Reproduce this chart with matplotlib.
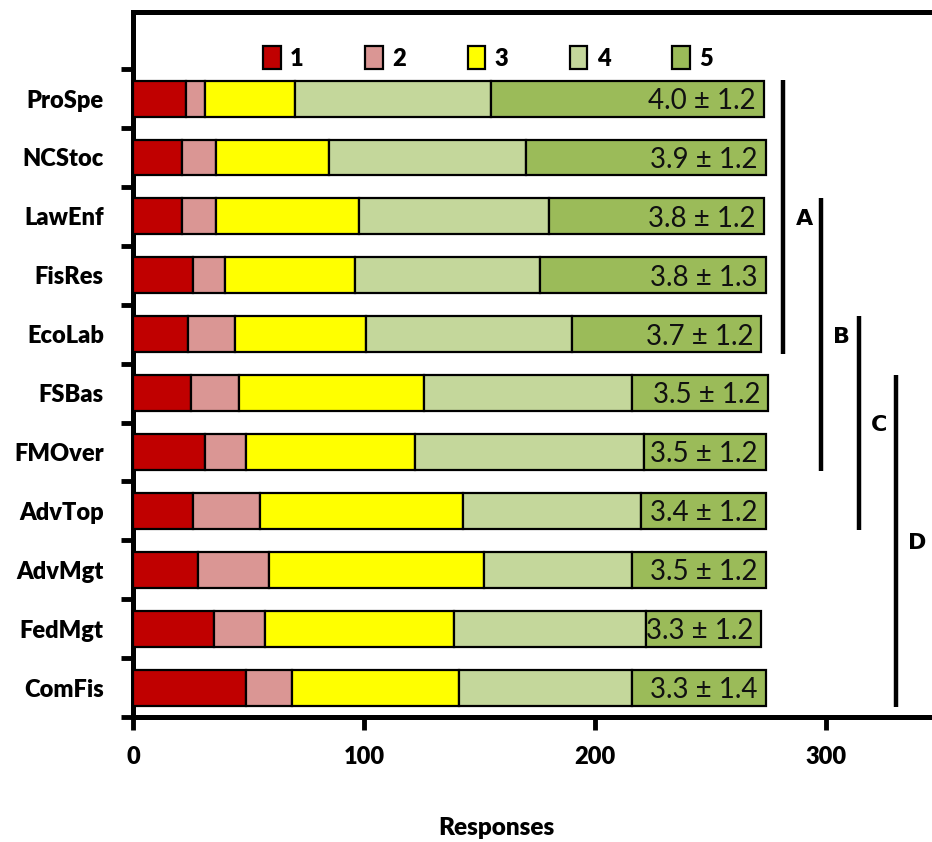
import matplotlib
matplotlib.use("Agg")
import matplotlib.pyplot as plt
import numpy as np

# Survey topics and counts of responses per Likert level (1 = lowest, 5 = highest)
categories = ["ProSpe", "NCStoc", "LawEnf", "FisRes", "EcoLab", "FSBas",
              "FMOver", "AdvTop", "AdvMgt", "FedMgt", "ComFis"]
level1 = [23, 21, 21, 26, 24, 25, 31, 26, 28, 35, 49]
level2 = [8, 15, 15, 14, 20, 21, 18, 29, 31, 22, 20]
level3 = [39, 49, 62, 56, 57, 80, 73, 88, 93, 82, 72]
level4 = [85, 85, 82, 80, 89, 90, 99, 77, 64, 83, 75]
level5 = [118, 104, 93, 98, 82, 59, 53, 54, 58, 50, 58]
score_labels = ["4.0 ± 1.2", "3.9 ± 1.2", "3.8 ± 1.2", "3.8 ± 1.3", "3.7 ± 1.2",
                "3.5 ± 1.2", "3.5 ± 1.2", "3.4 ± 1.2", "3.5 ± 1.2", "3.3 ± 1.2",
                "3.3 ± 1.4"]
level_names = ["1", "2", "3", "4", "5"]
# Homogeneous groups: (letter, first topic, last topic)
groups = [("A", "ProSpe", "EcoLab"), ("B", "LawEnf", "FMOver"),
          ("C", "EcoLab", "AdvTop"), ("D", "FSBas", "ComFis")]

colors = ["#C00000", "#DA9694", "#FFFF00", "#C4D79B", "#9BBB59"]
FONT = "Lato"
BOLD = "heavy"

fig = plt.figure(figsize=(9.32, 8.42), dpi=100)
ax = fig.add_axes([133 / 932, 1 - 717 / 842, 1 - 133 / 932, (717 - 12) / 842])

levels = [level1, level2, level3, level4, level5]
y = np.arange(len(categories))
left = np.zeros(len(categories))
for vals, col, name in zip(levels, colors, level_names):
    vals = np.asarray(vals, dtype=float)
    ax.barh(y, vals, left=left, height=0.61, color=col, edgecolor="black",
            linewidth=1.6, label=name, zorder=3)
    left += vals

for yi, total, txt in zip(y, left, score_labels):
    ax.text(total - 3.5, yi + 0.04, txt, ha="right", va="center",
            fontsize=20, family=FONT, color="#111111", zorder=4)

# Group brackets to the right of the bars
for k, (letter, first, last) in enumerate(groups):
    i0 = categories.index(first)
    i1 = categories.index(last)
    xl = 281.5 + 16.3 * k
    ax.plot([xl, xl], [i0 - 0.31, i1 + 0.33], color="black", lw=3.2,
            solid_capstyle="butt", clip_on=False, zorder=5)
    ax.text(xl + 9, (i0 + i1) / 2 + 0.05, letter, ha="center", va="center",
            fontsize=16, fontweight="bold", family="DejaVu Sans")

ax.set_xlim(0, 799 / 2.31)
ax.set_ylim(10.5, -1.47)

ax.set_xticks([0, 100, 200, 300])
ax.set_xticklabels(["0", "100", "200", "300"], fontsize=17, fontweight=BOLD,
                   family=FONT)
ax.set_yticks(y)
ax.set_yticklabels(categories, fontsize=17, fontweight=BOLD, family=FONT)
ax.set_yticks(np.arange(-0.5, 10.6, 1.0), minor=True)
ax.tick_params(axis="y", which="major", length=0, pad=21)
ax.tick_params(axis="y", which="minor", length=9, width=3.5, direction="out")
ax.tick_params(axis="x", which="major", length=9, width=3.5, direction="out",
               pad=12)

for side in ["left", "top", "bottom"]:
    ax.spines[side].set_linewidth(3.6)
ax.spines["right"].set_visible(False)

fig.text(496 / 932, 1 - 828 / 842, "Responses", ha="center", va="center",
         fontsize=17.5, fontweight=BOLD, family=FONT)

handles, labels = ax.get_legend_handles_labels()
leg = fig.legend(handles, labels, loc="center", ncol=5, frameon=False,
                 bbox_to_anchor=(488 / 932, 1 - 58 / 842),
                 prop={"family": FONT, "weight": BOLD, "size": 17},
                 handlelength=0.75, handleheight=1.1, handletextpad=0.4,
                 columnspacing=2.6)

fig.savefig("out.png", dpi=100)
